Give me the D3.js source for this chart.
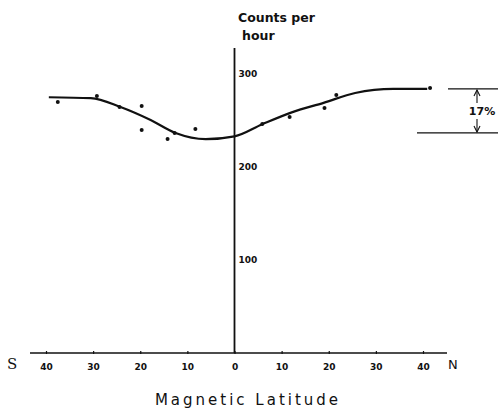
<!DOCTYPE html>
<html><head><meta charset="utf-8">
<script src="https://cdn.jsdelivr.net/npm/d3@7"></script>
<style>body{margin:0;background:#fff;} svg{display:block;}</style>
</head><body>
<svg id="c" width="500" height="410"></svg>
<script>
// Data
const latTicks = [-40,-30,-20,-10,0,10,20,30,40];
const countTicks = [100,200,300];
const curveLat = [-39.4,-30.5,-24.2,-17.8,-12.5,-6.1,0,5.9,12.3,18.9,25.6,33.7,40.9];
const curveCounts = [275,274,264.5,250.5,236.6,230,233,246,259,269,279.6,284,284];
const obsLat = [-37.5,-29.2,-24.4,-19.7,-19.7,-14.2,-12.7,-8.3,5.9,11.7,19.1,21.6,41.5];
const obsCounts = [269.9,276.3,264.5,265.6,239.8,230,236.6,240.9,246.2,253.8,263.4,277.4,285];
const diffTop = 284, diffBottom = 236.6;
const diffLabel = "17%";

const svg = d3.select("#c");
const x = d3.scaleLinear().domain([-40,40]).range([46,423]);
const y = d3.scaleLinear().domain([0,300]).range([353,74]);
const font = "'DejaVu Sans', sans-serif";

// x axis
const gx = svg.append("g").attr("transform",`translate(0,${y(0)})`)
  .call(d3.axisBottom(x).tickValues(latTicks).tickSize(3).tickPadding(8).tickFormat(d=>Math.abs(d)));
gx.select(".domain").remove();
gx.selectAll(".tick line").attr("y1",-2).attr("y2",1).attr("stroke","#111").attr("stroke-width",1.2);
gx.selectAll("text").attr("font-family",font).attr("font-size",9).attr("font-weight","bold").attr("fill","#111");
svg.append("line").attr("x1",30).attr("x2",447).attr("y1",y(0)).attr("y2",y(0)).attr("stroke","#111").attr("stroke-width",1.5);

// y axis
const gy = svg.append("g").attr("transform",`translate(${x(0)},0)`)
  .call(d3.axisRight(y).tickValues(countTicks).tickSize(0).tickPadding(4));
gy.select(".domain").remove();
gy.selectAll("text").attr("font-family",font).attr("font-size",9).attr("font-weight","bold").attr("fill","#111");
svg.append("line").attr("x1",x(0)).attr("x2",x(0)).attr("y1",48).attr("y2",y(0)).attr("stroke","#111").attr("stroke-width",1.8);

// curve
const line = d3.line().x((d,i)=>x(curveLat[i])).y(d=>y(d)).curve(d3.curveMonotoneX);
svg.append("path").attr("d",line(curveCounts)).attr("fill","none").attr("stroke","#111").attr("stroke-width",2.2);

// points
svg.append("g").selectAll("circle").data(obsCounts).join("circle")
  .attr("cx",(d,i)=>x(obsLat[i])).attr("cy",d=>y(d)).attr("r",2).attr("fill","#111");

// annotation
const ax = 477;
const mid = (y(diffTop)+y(diffBottom))/2;
svg.append("line").attr("x1",448).attr("x2",498).attr("y1",y(diffTop)).attr("y2",y(diffTop)).attr("stroke","#111").attr("stroke-width",1.3);
svg.append("line").attr("x1",417).attr("x2",498).attr("y1",y(diffBottom)).attr("y2",y(diffBottom)).attr("stroke","#111").attr("stroke-width",1.3);
svg.append("line").attr("x1",ax).attr("x2",ax).attr("y1",y(diffTop)+1).attr("y2",mid-8).attr("stroke","#111").attr("stroke-width",1.1);
svg.append("line").attr("x1",ax).attr("x2",ax).attr("y1",mid+8).attr("y2",y(diffBottom)-1).attr("stroke","#111").attr("stroke-width",1.1);
svg.append("path").attr("d",`M${ax-3},${y(diffTop)+7}L${ax},${y(diffTop)+1}L${ax+3},${y(diffTop)+7}`).attr("fill","none").attr("stroke","#111").attr("stroke-width",1.1);
svg.append("path").attr("d",`M${ax-3},${y(diffBottom)-7}L${ax},${y(diffBottom)-1}L${ax+3},${y(diffBottom)-7}`).attr("fill","none").attr("stroke","#111").attr("stroke-width",1.1);
svg.append("text").attr("x",482).attr("y",mid+4).attr("text-anchor","middle")
  .attr("font-family",font).attr("font-size",11).attr("font-weight","bold").attr("fill","#111").text(diffLabel);

// labels
svg.append("text").attr("x",238).attr("y",22).attr("font-family",font).attr("font-size",12.5).attr("font-weight","bold").attr("fill","#111").text("Counts per");
svg.append("text").attr("x",242).attr("y",40).attr("font-family",font).attr("font-size",12.5).attr("font-weight","bold").attr("fill","#111").text("hour");
svg.append("text").attr("x",7).attr("y",369).attr("font-family","'DejaVu Serif', serif").attr("font-size",15).attr("fill","#111").text("S");
svg.append("text").attr("x",448).attr("y",369).attr("font-family",font).attr("font-size",13).attr("fill","#111").text("N");
svg.append("text").attr("x",248).attr("y",405).attr("text-anchor","middle").attr("font-family",font).attr("font-size",15)
  .attr("letter-spacing",3).attr("fill","#111").text("Magnetic Latitude");
</script>
</body></html>
